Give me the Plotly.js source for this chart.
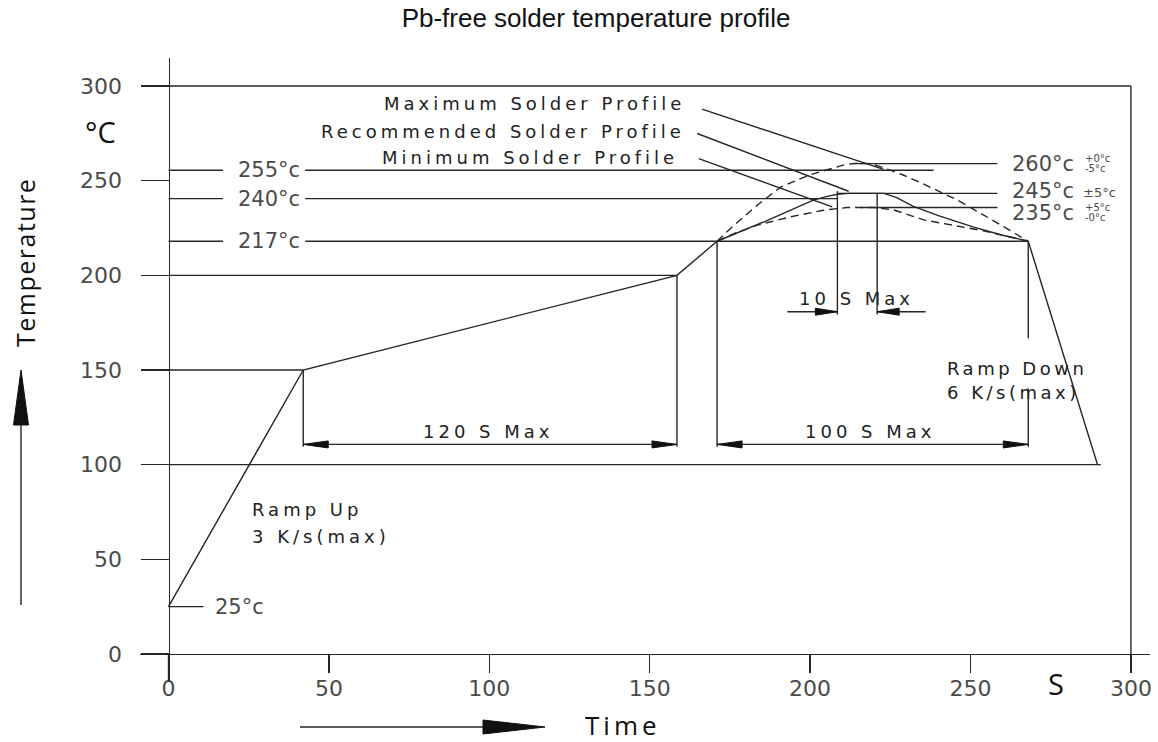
<!DOCTYPE html>
<html><head><meta charset="utf-8">
<script src="https://cdn.plot.ly/plotly-3.0.1.min.js"></script>
<style>html,body{margin:0;padding:0;background:#fff}#chart{width:1158px;height:742px}</style>
</head><body><div id="chart"></div>
<script>
// ---------------- data ----------------
const tickVals = [0, 50, 100, 150, 200, 250, 300];
const tickText = ['0', '50', '100', '150', '200', '250', '300'];

// main profile (time in s, temperature in °C)
const rampUpTime = [0, 42, 158.5, 171];
const rampUpTemp = [25, 150, 200, 218];
const rampDownTime = [268, 289.6];
const rampDownTemp = [218, 100];

// recommended (solid), maximum (dashed), minimum (dashed) reflow zone profiles
const recTime = [171, 186, 201, 205, 208.5, 212, 223, 227, 232, 240, 251, 260, 268];
const recTemp = [218, 228.5, 239.7, 241.6, 242.8, 243.3, 243.3, 241, 236.5, 231.5, 225.5, 221.2, 218];
const maxTime = [171, 176, 183.5, 190.7, 199.6, 206.3, 211, 215, 219, 223, 229, 235, 246, 256, 268];
const maxTemp = [218, 226, 237, 246.5, 252.9, 256.4, 258.5, 259.3, 258.9, 256.8, 253, 248.5, 239.7, 230, 218];
const minTime = [171, 177, 183.5, 193.9, 204.2, 211.5, 220, 226, 235.4, 245, 254, 268];
const minTemp = [218, 222.5, 226.5, 230.9, 234.4, 235.8, 235.8, 234.6, 229.3, 226.2, 223.5, 218];

// plain reference levels
const levelTemp = [300, 200, 150, 100, 25];
const levelEnd = [300, 158.5, 42, 290.6, 10.9];

// reference levels labelled on the left
const leftLevelTemp = [255.5, 240.5, 218];
const leftLevelText = ['255°c', '240°c', '217°c'];
const leftLevelEnd = [238.5, 208.5, 268];

// reference levels labelled on the right
const rightLevelTemp = [259, 243.3, 235.8];
const rightLevelStart = [214, 208.5, 215.7];
const rightLevelEnd = [258.4, 258.4, 258.4];
const rightLevelText = ['260°c', '245°c', '235°c'];
const rightTolInline = ['', '±5°c', ''];
const rightTolUpper = ['+0°c', '', '+5°c'];
const rightTolLower = ['-5°c', '', '-0°c'];

// profile name leaders
const profileNames = ['Maximum Solder Profile', 'Recommended Solder Profile', 'Minimum Solder Profile'];
const leaderStartTime = [166.3, 164.8, 165.3];
const leaderStartTemp = [287.8, 274.9, 261.6];
const leaderEndTime = [222.9, 212, 206.9];
const leaderEndTemp = [256, 244.4, 236.2];

// time spans
const spanStart = [42, 171];
const spanEnd = [158.5, 268];
const spanText = ['120 S Max', '100 S Max'];
const peakSpanStart = 208.5;
const peakSpanEnd = 220.9;
const peakSpanText = '10 S Max';

// ---------------- drawing ----------------
const INK = '#262626';
const LW = 1.4;
const spaced = (s, px) => '<span style="letter-spacing:' + px + 'px">' + s + '</span>';

const traces = [
  {x: rampUpTime, y: rampUpTemp, mode: 'lines', line: {color: INK, width: LW}, hoverinfo: 'skip'},
  {x: rampDownTime, y: rampDownTemp, mode: 'lines', line: {color: INK, width: LW}, hoverinfo: 'skip'},
  {x: recTime, y: recTemp, mode: 'lines', line: {color: INK, width: LW}, hoverinfo: 'skip'},
  {x: maxTime, y: maxTemp, mode: 'lines', line: {color: INK, width: LW, dash: '8px,5px'}, hoverinfo: 'skip'},
  {x: minTime, y: minTemp, mode: 'lines', line: {color: INK, width: LW, dash: '8px,5px'}, hoverinfo: 'skip'}
];

const shapes = [];
function seg(x0, y0, x1, y1, xref, yref) {
  shapes.push({type: 'line', xref: xref || 'x', yref: yref || 'y', x0: x0, y0: y0, x1: x1, y1: y1,
    line: {color: INK, width: LW}});
}
function head(x, y, dir, len, half, xref, yref) {
  let p;
  if (dir === 'right') p = 'M0,0L' + (-len) + ',' + half + 'L' + (-len) + ',' + (-half) + 'Z';
  else if (dir === 'left') p = 'M0,0L' + len + ',' + half + 'L' + len + ',' + (-half) + 'Z';
  else p = 'M0,0L' + half + ',' + (-len) + 'L' + (-half) + ',' + (-len) + 'Z';
  shapes.push({type: 'path', xref: xref || 'x', yref: yref || 'y', xsizemode: 'pixel', ysizemode: 'pixel',
    xanchor: x, yanchor: y, path: p, fillcolor: '#111', line: {color: '#111', width: 1}});
}

// plain levels
levelTemp.forEach((t, i) => seg(0, t, levelEnd[i], t));
// right border at 300 s
seg(300, 0, 300, 300);
// left labelled levels (broken for the label)
leftLevelTemp.forEach((t, i) => { seg(0, t, 17, t); seg(42.6, t, leftLevelEnd[i], t); });
// right labelled levels
rightLevelTemp.forEach((t, i) => seg(rightLevelStart[i], t, rightLevelEnd[i], t));
// leaders
profileNames.forEach((n, i) => seg(leaderStartTime[i], leaderStartTemp[i], leaderEndTime[i], leaderEndTemp[i]));

// spans 120 s / 100 s
const spanY = 110.7, spanFoot = 109.5;
seg(spanStart[0], 150, spanStart[0], spanFoot);
seg(spanEnd[0], 200, spanEnd[0], spanFoot);
seg(spanStart[1], 218, spanStart[1], spanFoot);
seg(spanEnd[1], 218, spanEnd[1], 166.8);
seg(spanEnd[1], 140.4, spanEnd[1], spanFoot);
spanStart.forEach((s, i) => {
  seg(s, spanY, spanEnd[i], spanY);
  head(s, spanY, 'left', 25, 3.5);
  head(spanEnd[i], spanY, 'right', 25, 3.5);
});
// 10 s peak span
const peakY = 180.8;
seg(peakSpanStart, 244.5, peakSpanStart, peakY - 1.5);
seg(peakSpanEnd, 243.3, peakSpanEnd, peakY - 1.5);
seg(192.9, peakY, peakSpanStart, peakY);
seg(peakSpanEnd, peakY, 236, peakY);
head(peakSpanStart, peakY, 'right', 22, 3.5);
head(peakSpanEnd, peakY, 'left', 22, 3.5);

// y-axis extension below the time axis
seg(0, 0, 0, -14.79);

// axis direction arrows (outside the plot, paper coords)
seg(21 / 1158, 1 - 605 / 742, 21 / 1158, 1 - 420 / 742, 'paper', 'paper');
head(21 / 1158, 1 - 370 / 742, 'up', 55, 7.5, 'paper', 'paper');
seg(300 / 1158, 1 - 727 / 742, 490 / 1158, 1 - 727 / 742, 'paper', 'paper');
head(545 / 1158, 1 - 727 / 742, 'right', 62, 7, 'paper', 'paper');

// ---------------- annotations ----------------
const cadFont = {family: 'DejaVu Sans', size: 21, color: '#4a4a4a'};
const tolFont = {family: 'DejaVu Sans', size: 10, color: '#4a4a4a'};
const lblFont = {family: 'DejaVu Sans', size: 18, color: '#222'};
const ann = [];
function txt(x, y, text, font, xanchor, extra) {
  ann.push(Object.assign({x: x, y: y, xref: 'x', yref: 'y', text: text, showarrow: false, font: font,
    xanchor: xanchor || 'center', yanchor: 'middle'}, extra || {}));
}
function ptxt(px, py, text, font, extra) {
  ann.push(Object.assign({x: px / 1158, y: 1 - py / 742, xref: 'paper', yref: 'paper', text: text, showarrow: false,
    font: font, xanchor: 'center', yanchor: 'middle'}, extra || {}));
}
leftLevelText.forEach((s, i) => txt(31.4, leftLevelTemp[i], s, cadFont));
txt(13.9, 25, '25°c', cadFont, 'left');
const rightLabelY = [258.8, 244.5, 233.1];
rightLevelText.forEach((s, i) => {
  txt(262.3, rightLabelY[i], s, cadFont, 'left');
  if (rightTolInline[i]) txt(284.3, rightLabelY[i] - 0.5, rightTolInline[i], {family: 'DejaVu Sans', size: 13, color: '#4a4a4a'}, 'left');
  if (rightTolUpper[i]) txt(285, rightLabelY[i] + 2.8, rightTolUpper[i], tolFont, 'left');
  if (rightTolLower[i]) txt(285, rightLabelY[i] - 2.6, rightTolLower[i], tolFont, 'left');
});
const nameX = [161.6, 161.6, 159.5];
const nameY = [290.5, 275.9, 262.3];
profileNames.forEach((n, i) => txt(nameX[i], nameY[i], spaced(n, 4), lblFont, 'right'));
txt(99.6, 117.3, spaced(spanText[0], 4), lblFont);
txt(218.7, 117.3, spaced(spanText[1], 4), lblFont);
txt(214.5, 188, spaced(peakSpanText, 4), lblFont);
txt(25.4, 76.1, spaced('Ramp Up', 4), lblFont, 'left');
txt(25.4, 61.8, spaced('3 K/s(max)', 4), lblFont, 'left');
txt(242, 151, spaced('Ramp Down', 3.5), lblFont, 'left');
txt(242, 137.9, spaced('6 K/s(max)', 3.5), lblFont, 'left');
ptxt(100, 131, '°C', {family: 'Open Sans', size: 29, color: '#111'});
ptxt(1056, 683, 'S', {family: 'Open Sans', size: 29, color: '#111'});
ptxt(25, 263, spaced('Temperature', 1.5), {family: 'Open Sans', size: 25, color: '#111'}, {textangle: -90});
ptxt(623, 725, spaced('Time', 4), {family: 'Open Sans', size: 26, color: '#111'});

const axisCommon = {showline: true, linecolor: INK, linewidth: LW, ticks: 'outside', tickcolor: INK, tickwidth: LW,
  tickmode: 'array', tickvals: tickVals, ticktext: tickText, showgrid: false, zeroline: false, fixedrange: true,
  tickfont: {family: 'DejaVu Sans', size: 22, color: '#4a4a4a'}};

const layout = {
  width: 1158, height: 742, margin: {l: 0, r: 0, t: 0, b: 0},
  paper_bgcolor: '#fff', plot_bgcolor: 'rgba(0,0,0,0)', showlegend: false,
  title: {text: 'Pb-free solder temperature profile', font: {family: 'Liberation Sans, Arial', size: 26, color: '#111'},
    xref: 'container', yref: 'container', x: 596 / 1158, xanchor: 'center', y: 1 - 18 / 742, yanchor: 'middle'},
  xaxis: Object.assign({}, axisCommon, {domain: [140 / 1158, 1150 / 1158], range: [-8.884, 305.95],
    anchor: 'free', position: (742 - 654) / 742, ticklen: 18, ticklabelstandoff: -4}),
  yaxis: Object.assign({}, axisCommon, {domain: [(742 - 682) / 742, (742 - 58) / 742], range: [-14.79, 314.79],
    anchor: 'free', position: 168.5 / 1158, ticklen: 28, ticklabelstandoff: 14}),
  shapes: shapes,
  annotations: ann
};

Plotly.newPlot('chart', traces, layout, {staticPlot: true, displayModeBar: false});
</script>
</body></html>
